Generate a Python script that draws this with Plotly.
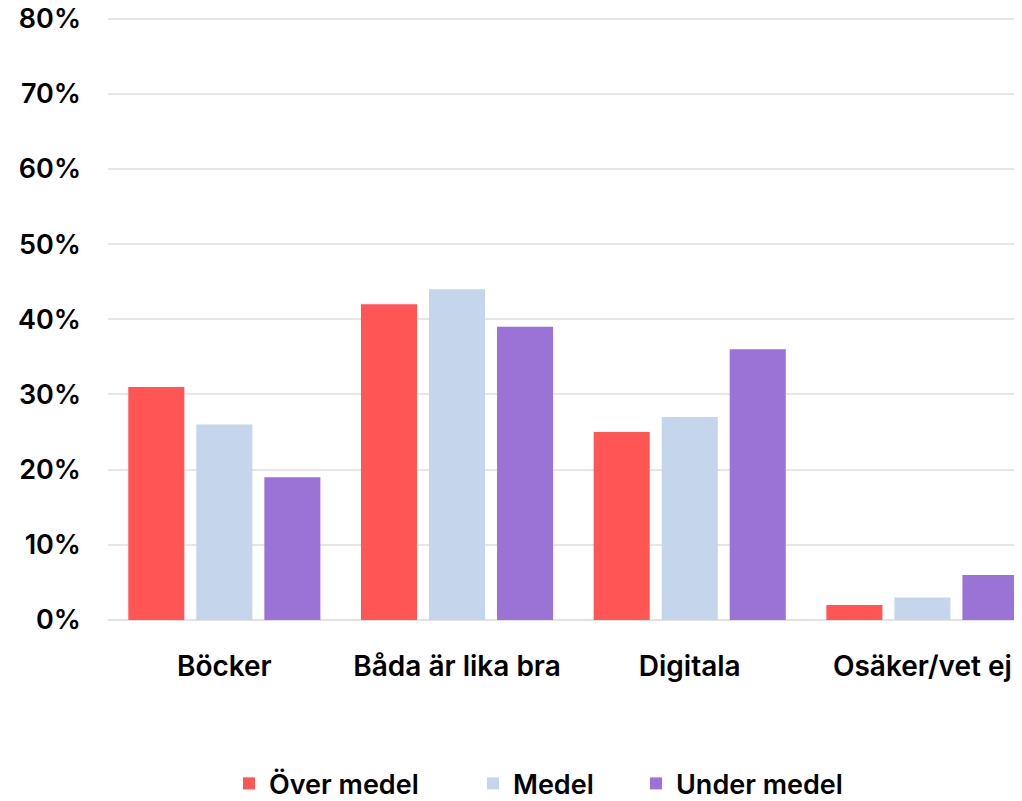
import plotly.graph_objects as go

categories = ["Böcker", "Båda är lika bra", "Digitala", "Osäker/vet ej"]
over_medel = [31, 42, 25, 2]
medel = [26, 44, 27, 3]
under_medel = [19, 39, 36, 6]
y_ticks = [0, 10, 20, 30, 40, 50, 60, 70, 80]
y_tick_labels = [f"{v}%" for v in y_ticks]

W, H = 1014, 793

series = [
    ("Över medel", over_medel, "#FF5555", "legend", 221),
    ("Medel", medel, "#C5D5EC", "legend2", 465),
    ("Under medel", under_medel, "#9B72D6", "legend3", 628),
]

font_family = "Inter, 'Noto Sans', sans-serif"
fsize = 27
fweight = 600

fig = go.Figure()
for name, vals, color, leg, _ in series:
    fig.add_trace(go.Bar(
        x=categories, y=vals, name=name, legend=leg,
        marker=dict(color=color, line=dict(width=0)),
        hoverinfo="skip",
    ))

legends = {}
for name, vals, color, leg, xpos in series:
    legends[leg] = dict(
        orientation="h", xref="container", yref="paper",
        x=xpos / W, xanchor="left", y=-0.269, yanchor="middle",
        font=dict(size=fsize, family=font_family, color="black", weight=fweight),
        itemwidth=30, bgcolor="rgba(0,0,0,0)",
    )

fig.update_layout(
    width=W, height=H,
    barmode="group",
    bargap=0.123, bargroupgap=0.176,
    plot_bgcolor="white", paper_bgcolor="white",
    margin=dict(l=100, r=0, t=2.5, b=181, autoexpand=False),
    font=dict(family=font_family, size=fsize, color="black", weight=fweight),
    showlegend=True,
    xaxis=dict(
        range=[-0.5, 3.428], automargin=False,
        showgrid=False, showline=False, zeroline=False,
        ticks="", ticklabelstandoff=27, ticklabeloverflow="allow",
        tickfont=dict(size=28, family=font_family, weight=fweight),
    ),
    yaxis=dict(
        range=[0, 81], tickvals=y_ticks, ticktext=y_tick_labels, automargin=False,
        showgrid=True, gridcolor="#e6e6e6", gridwidth=2,
        zeroline=True, zerolinecolor="#e2e2e2", zerolinewidth=2,
        showline=False, ticks="", ticklabelstandoff=26, ticklabeloverflow="allow",
        tickfont=dict(size=fsize, family=font_family, weight=fweight),
    ),
    **legends,
)

fig.write_html("out.html")
